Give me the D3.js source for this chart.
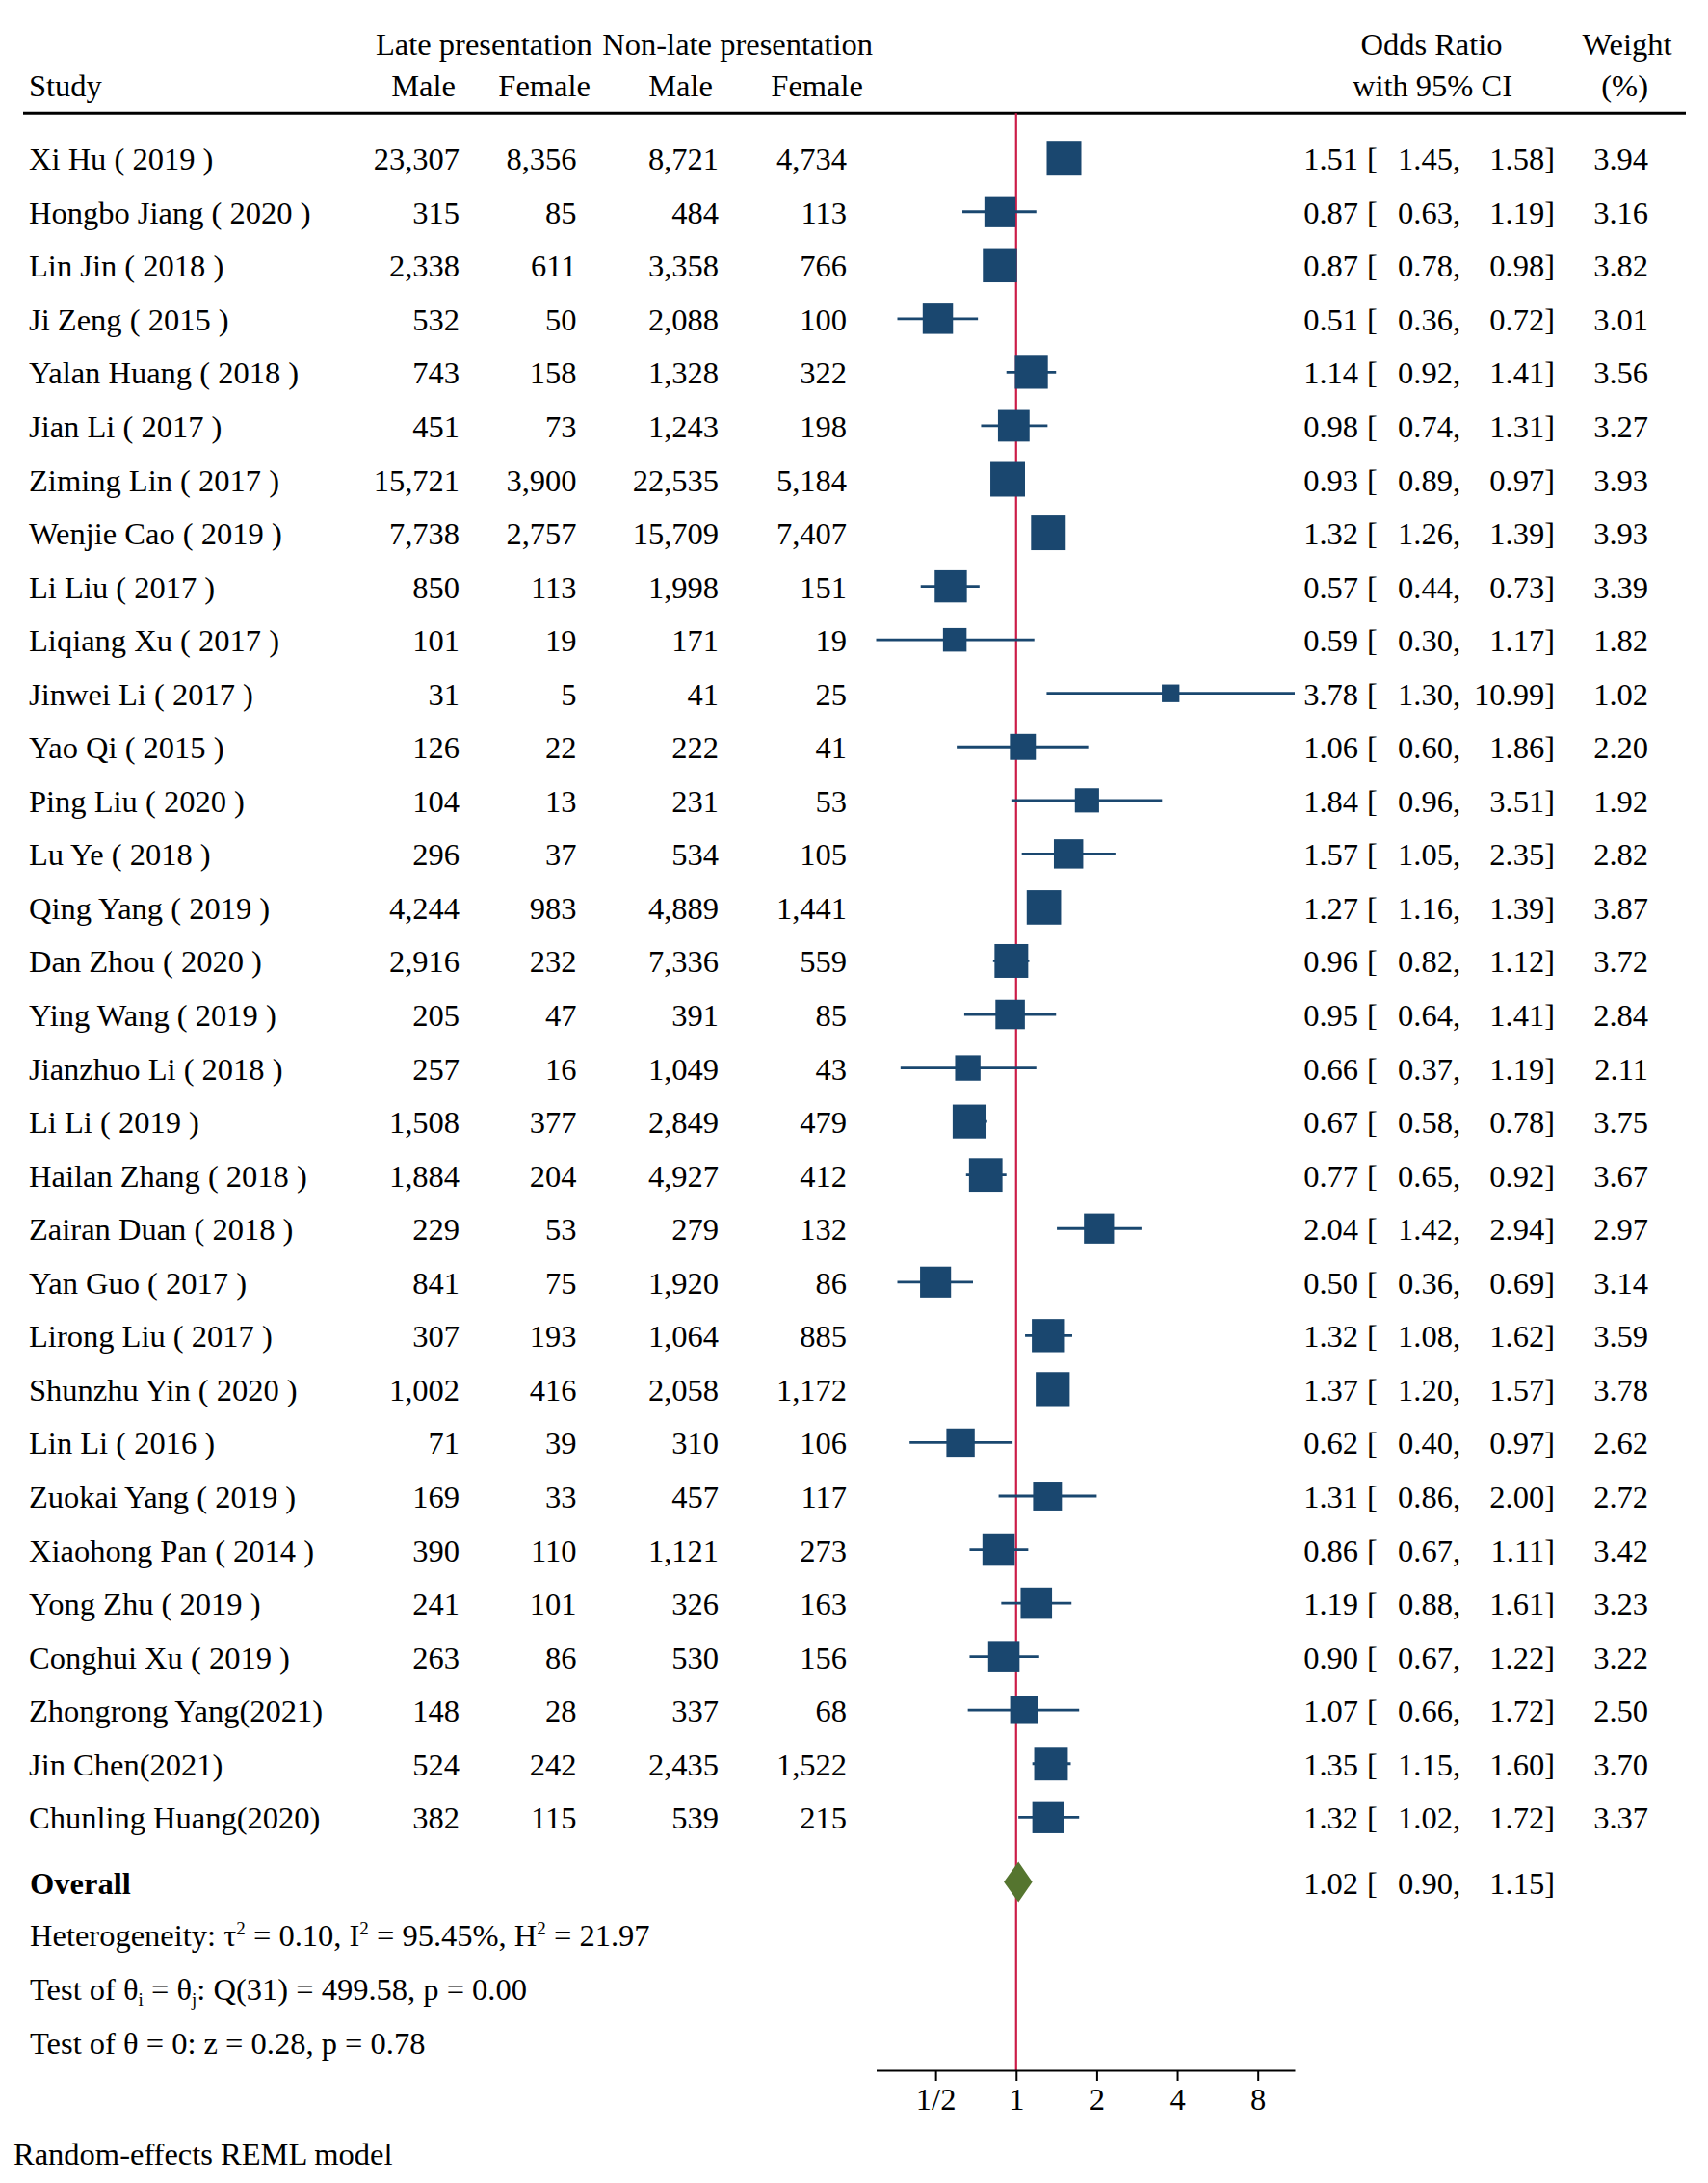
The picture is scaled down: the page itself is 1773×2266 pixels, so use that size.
<!DOCTYPE html>
<html><head><meta charset="utf-8">
<script src="https://cdn.jsdelivr.net/npm/d3@7"></script>
<style>
body{margin:0;background:#fff}
svg{display:block}
text{font-family:"Liberation Serif","Times New Roman",serif;font-size:32.5px;fill:#000}
</style>
</head><body><svg id="c" width="1773" height="2266"></svg>
<script>
// ---------- DATA ----------
const studies = ["Xi Hu ( 2019 )","Hongbo Jiang ( 2020 )","Lin Jin ( 2018 )","Ji Zeng ( 2015 )","Yalan Huang ( 2018 )","Jian Li ( 2017 )","Ziming Lin ( 2017 )","Wenjie Cao ( 2019 )","Li Liu ( 2017 )","Liqiang Xu ( 2017 )","Jinwei Li ( 2017 )","Yao Qi ( 2015 )","Ping Liu ( 2020 )","Lu Ye ( 2018 )","Qing Yang ( 2019 )","Dan Zhou ( 2020 )","Ying Wang ( 2019 )","Jianzhuo Li ( 2018 )","Li Li ( 2019 )","Hailan Zhang ( 2018 )","Zairan Duan ( 2018 )","Yan Guo ( 2017 )","Lirong Liu ( 2017 )","Shunzhu Yin ( 2020 )","Lin Li ( 2016 )","Zuokai Yang ( 2019 )","Xiaohong Pan ( 2014 )","Yong Zhu ( 2019 )","Conghui Xu ( 2019 )","Zhongrong Yang(2021)","Jin Chen(2021)","Chunling Huang(2020)"];
const lateMale = [23307,315,2338,532,743,451,15721,7738,850,101,31,126,104,296,4244,2916,205,257,1508,1884,229,841,307,1002,71,169,390,241,263,148,524,382];
const lateFemale = [8356,85,611,50,158,73,3900,2757,113,19,5,22,13,37,983,232,47,16,377,204,53,75,193,416,39,33,110,101,86,28,242,115];
const nonLateMale = [8721,484,3358,2088,1328,1243,22535,15709,1998,171,41,222,231,534,4889,7336,391,1049,2849,4927,279,1920,1064,2058,310,457,1121,326,530,337,2435,539];
const nonLateFemale = [4734,113,766,100,322,198,5184,7407,151,19,25,41,53,105,1441,559,85,43,479,412,132,86,885,1172,106,117,273,163,156,68,1522,215];
const oddsRatio = [1.51,0.87,0.87,0.51,1.14,0.98,0.93,1.32,0.57,0.59,3.78,1.06,1.84,1.57,1.27,0.96,0.95,0.66,0.67,0.77,2.04,0.50,1.32,1.37,0.62,1.31,0.86,1.19,0.90,1.07,1.35,1.32];
const ciLower = [1.45,0.63,0.78,0.36,0.92,0.74,0.89,1.26,0.44,0.30,1.30,0.60,0.96,1.05,1.16,0.82,0.64,0.37,0.58,0.65,1.42,0.36,1.08,1.20,0.40,0.86,0.67,0.88,0.67,0.66,1.15,1.02];
const ciUpper = [1.58,1.19,0.98,0.72,1.41,1.31,0.97,1.39,0.73,1.17,10.99,1.86,3.51,2.35,1.39,1.12,1.41,1.19,0.78,0.92,2.94,0.69,1.62,1.57,0.97,2.00,1.11,1.61,1.22,1.72,1.60,1.72];
const weight = [3.94,3.16,3.82,3.01,3.56,3.27,3.93,3.93,3.39,1.82,1.02,2.20,1.92,2.82,3.87,3.72,2.84,2.11,3.75,3.67,2.97,3.14,3.59,3.78,2.62,2.72,3.42,3.23,3.22,2.50,3.70,3.37];
const overall = {or: 1.02, lo: 0.90, hi: 1.15};
const tickValues = [0.5, 1, 2, 4, 8];
const tickLabels = ["1/2", "1", "2", "4", "8"];
const colHeaders = ["Male", "Female", "Male", "Female"];

// ---------- LAYOUT ----------
const svg = d3.select("#c");
const navy = "#1a476f", green = "#55752f", red = "#cc1c48";
const x = d3.scaleLog().domain([0.30, 10.99]).range([909.5, 1344]);
const y = d3.scaleLinear().domain([0, studies.length - 1]).range([164.2, 1886.3]);
const side = d3.scaleSqrt().domain([0, 3.94]).range([0, 36]);
const fCount = d3.format(",");
const f2 = d3.format(".2f");
const BL = 12; // baseline offset from row center
const colRight = [477, 598.5, 746, 879];
const colHeadRight = [473, 613, 740, 896];
const xOR = 1410, xBr = 1419, xLo = 1516, xHi = 1614, xW = 1711;
const overallY = 1953.5;
const axisY = 2149;

// Header
svg.append("text").attr("x", 390).attr("y", 57).text("Late presentation");
svg.append("text").attr("x", 906).attr("y", 57).attr("text-anchor", "end").text("Non-late presentation");
svg.append("text").attr("x", 30).attr("y", 100).text("Study");
colHeaders.forEach((h, i) => {
  svg.append("text").attr("x", colHeadRight[i]).attr("y", 100).attr("text-anchor", "end").text(h);
});
svg.append("text").attr("x", 1486).attr("y", 57).attr("text-anchor", "middle").text("Odds Ratio");
svg.append("text").attr("x", 1487).attr("y", 100).attr("text-anchor", "middle").text("with 95% CI");
svg.append("text").attr("x", 1689).attr("y", 57).attr("text-anchor", "middle").text("Weight");
svg.append("text").attr("x", xW).attr("y", 100).attr("text-anchor", "end").text("(%)");
svg.append("line").attr("x1", 24).attr("x2", 1750).attr("y1", 117.3).attr("y2", 117.3)
  .attr("stroke", "#000").attr("stroke-width", 3);

// Reference line at OR = 1
svg.append("line").attr("x1", x(1)).attr("x2", x(1)).attr("y1", 117.3).attr("y2", axisY)
  .attr("stroke", red).attr("stroke-width", 2.2);

// Rows
const counts = [lateMale, lateFemale, nonLateMale, nonLateFemale];
const rows = svg.append("g").selectAll("g").data(studies).join("g");
rows.append("text").attr("x", 30).attr("y", (d, i) => y(i) + BL).text(d => d);
counts.forEach((arr, c) => {
  rows.append("text").attr("x", colRight[c]).attr("y", (d, i) => y(i) + BL)
    .attr("text-anchor", "end").text((d, i) => fCount(arr[i]));
});
rows.append("line")
  .attr("x1", (d, i) => x(ciLower[i])).attr("x2", (d, i) => x(ciUpper[i]))
  .attr("y1", (d, i) => y(i)).attr("y2", (d, i) => y(i))
  .attr("stroke", navy).attr("stroke-width", 2.8);
rows.append("rect")
  .attr("x", (d, i) => x(oddsRatio[i]) - side(weight[i]) / 2)
  .attr("y", (d, i) => y(i) - side(weight[i]) / 2)
  .attr("width", (d, i) => side(weight[i]))
  .attr("height", (d, i) => side(weight[i]))
  .attr("fill", navy);
rows.append("text").attr("x", xOR).attr("y", (d, i) => y(i) + BL).attr("text-anchor", "end").text((d, i) => f2(oddsRatio[i]));
rows.append("text").attr("x", xBr).attr("y", (d, i) => y(i) + BL).text("[");
rows.append("text").attr("x", xLo).attr("y", (d, i) => y(i) + BL).attr("text-anchor", "end").text((d, i) => f2(ciLower[i]) + ",");
rows.append("text").attr("x", xHi).attr("y", (d, i) => y(i) + BL).attr("text-anchor", "end").text((d, i) => f2(ciUpper[i]) + "]");
rows.append("text").attr("x", xW).attr("y", (d, i) => y(i) + BL).attr("text-anchor", "end").text((d, i) => f2(weight[i]));

// Overall
svg.append("text").attr("x", 31).attr("y", overallY + 12).attr("font-weight", "bold").text("Overall");
const dh = 21;
svg.append("path")
  .attr("d", `M${x(overall.lo)},${overallY} L${x(overall.or)},${overallY - dh} L${x(overall.hi)},${overallY} L${x(overall.or)},${overallY + dh} Z`)
  .attr("fill", green);
svg.append("text").attr("x", xOR).attr("y", overallY + BL).attr("text-anchor", "end").text(f2(overall.or));
svg.append("text").attr("x", xBr).attr("y", overallY + BL).text("[");
svg.append("text").attr("x", xLo).attr("y", overallY + BL).attr("text-anchor", "end").text(f2(overall.lo) + ",");
svg.append("text").attr("x", xHi).attr("y", overallY + BL).attr("text-anchor", "end").text(f2(overall.hi) + "]");

// Stats lines (absolute baseline positioning for each tspan piece)
function richLine(yy, parts) {
  const t = svg.append("text").attr("x", 31).attr("y", yy);
  parts.forEach(p => {
    if (typeof p === "string") t.append("tspan").attr("y", yy).text(p);
    else if (p.sup) t.append("tspan").attr("y", yy - 12).attr("font-size", "19px").text(p.sup);
    else if (p.sub) t.append("tspan").attr("y", yy + 6).attr("font-size", "19px").text(p.sub);
  });
  return t;
}
richLine(2020, ["Heterogeneity: \u03c4", {sup: "2"}, " = 0.10, I", {sup: "2"}, " = 95.45%, H", {sup: "2"}, " = 21.97"]);
richLine(2075.7, ["Test of \u03b8", {sub: "i"}, " = \u03b8", {sub: "j"}, ": Q(31) = 499.58, p = 0.00"]);
richLine(2131.7, ["Test of \u03b8 = 0: z = 0.28, p = 0.78"]);

// Axis
const axis = d3.axisBottom(x).tickValues(tickValues).tickFormat((d, i) => tickLabels[i]).tickSize(11).tickSizeOuter(0).tickPadding(8);
const ag = svg.append("g").attr("transform", `translate(0,${axisY})`).call(axis);
ag.select(".domain").attr("stroke", "#000").attr("stroke-width", 2.2);
ag.selectAll(".tick line").attr("stroke", "#000").attr("stroke-width", 2);
ag.selectAll(".tick text").attr("font-family", null).attr("font-size", null).style("font-size", "32.5px").attr("fill", "#000").attr("dy", null).attr("y", 41);

// Footnote
svg.append("text").attr("x", 14).attr("y", 2247).text("Random-effects REML model");
</script></body></html>
